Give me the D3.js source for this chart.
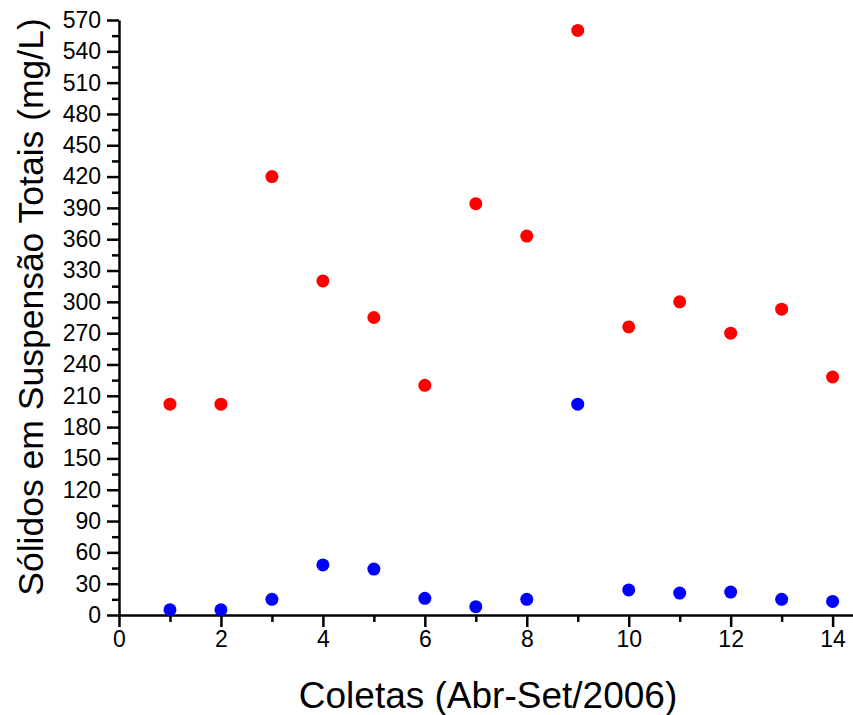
<!DOCTYPE html>
<html>
<head>
<meta charset="utf-8">
<script src="https://cdn.jsdelivr.net/npm/d3@7"></script>
<style>
  html, body { margin: 0; padding: 0; background: #fff; overflow: hidden; }
  svg { display: block; }
  svg text { font-family: "Liberation Sans", Arial, sans-serif; fill: #000; }
</style>
</head>
<body>
<div id="chart"></div>
<script>
const coletas = [1, 2, 3, 4, 5, 6, 7, 8, 9, 10, 11, 12, 13, 14];
const serieVermelha = [202, 202, 420, 320, 285, 220, 394, 363, 560, 276, 300, 270, 293, 228];
const serieAzul = [5, 5, 15, 48, 44, 16, 8, 15, 202, 24, 21, 22, 15, 13];
const xTicks = [0, 2, 4, 6, 8, 10, 12, 14];
const yTicks = d3.range(0, 571, 30);

const width = 853, height = 715;
const margin = { top: 20, right: 0, bottom: 100, left: 119 };
const innerWidth = width - margin.left - margin.right;
const innerHeight = height - margin.top - margin.bottom;

const svg = d3.select('#chart').append('svg')
  .attr('width', width)
  .attr('height', height);

const xScale = d3.scaleLinear().domain([0, 14.4]).range([0, innerWidth]);
const yScale = d3.scaleLinear().domain([0, 570]).range([innerHeight, 0]);

const g = svg.append('g')
  .attr('transform', `translate(${margin.left},${margin.top})`);

// minor ticks
const xMinor = g.append('g')
  .attr('transform', `translate(0,${innerHeight})`)
  .call(d3.axisBottom(xScale).tickValues(d3.range(1, 14.5, 2)).tickSize(7));
const yMinor = g.append('g')
  .call(d3.axisLeft(yScale).tickValues(d3.range(15, 570, 30)).tickSize(7));
[xMinor, yMinor].forEach(a => {
  a.select('.domain').remove();
  a.selectAll('.tick text').remove();
});

const xAxisG = g.append('g')
  .attr('transform', `translate(0,${innerHeight})`)
  .call(d3.axisBottom(xScale).tickValues(xTicks).tickSize(12).tickPadding(4).tickSizeOuter(0));
const yAxisG = g.append('g')
  .call(d3.axisLeft(yScale).tickValues(yTicks).tickSize(12).tickPadding(6).tickSizeOuter(0));

svg.selectAll('.tick line').attr('stroke', '#000').attr('stroke-width', 2.5);
svg.selectAll('.domain').attr('stroke', '#000').attr('stroke-width', 2.5);
svg.selectAll('.tick text').style('font-size', '23px');

xAxisG.append('text')
  .attr('x', 488 - margin.left)
  .attr('y', 93)
  .attr('text-anchor', 'middle')
  .style('font-size', '37px')
  .text('Coletas (Abr-Set/2006)');

yAxisG.append('text')
  .attr('transform', 'rotate(-90)')
  .attr('x', -(307 - margin.top))
  .attr('y', -76)
  .attr('text-anchor', 'middle')
  .style('font-size', '35.5px')
  .text('Sólidos em Suspensão Totais (mg/L)');

g.selectAll('circle.vermelho').data(coletas)
  .enter().append('circle')
    .attr('class', 'vermelho')
    .attr('cx', (d, i) => xScale(d))
    .attr('cy', (d, i) => yScale(serieVermelha[i]))
    .attr('r', 6.5)
    .attr('fill', '#ff0000');

g.selectAll('circle.azul').data(coletas)
  .enter().append('circle')
    .attr('class', 'azul')
    .attr('cx', (d, i) => xScale(d))
    .attr('cy', (d, i) => yScale(serieAzul[i]))
    .attr('r', 6.5)
    .attr('fill', '#0000ff');
</script>
</body>
</html>
